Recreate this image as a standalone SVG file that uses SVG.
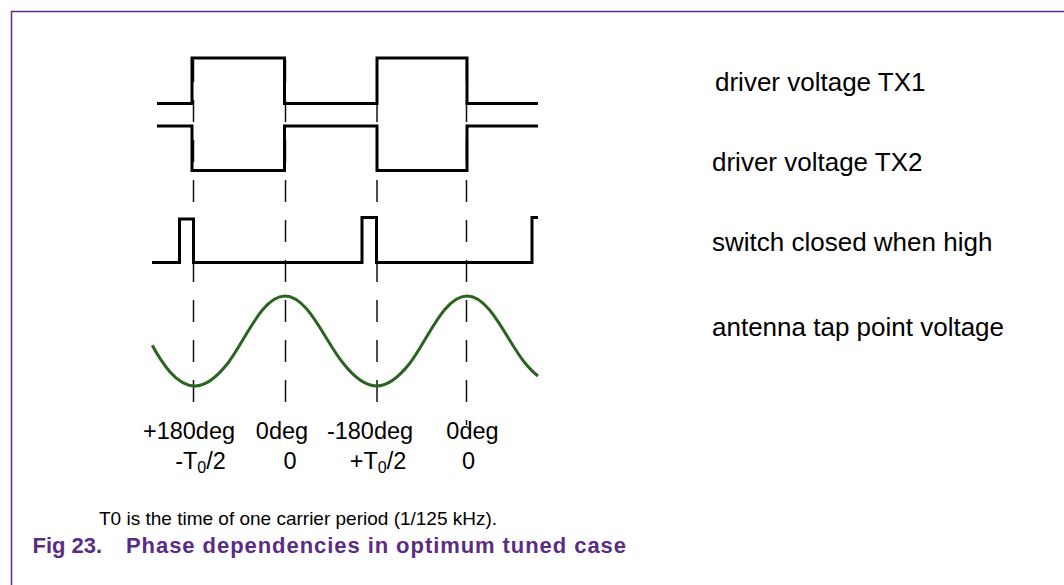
<svg xmlns="http://www.w3.org/2000/svg" width="1064" height="585" viewBox="0 0 1064 585">
<style>
.wave{fill:none;stroke:#000;stroke-width:3;stroke-linejoin:miter;stroke-linecap:butt}
.sine{fill:none;stroke:#2a6420;stroke-width:3}
.dash{stroke:#111;stroke-width:1.5;stroke-dasharray:22 18;fill:none}
.lbl{font-family:"Liberation Sans",Arial,sans-serif;font-size:26px;fill:#000}
.ax{font-family:"Liberation Sans",Arial,sans-serif;font-size:23.5px;fill:#000;text-anchor:middle}
.sub{font-size:16px}
.cap{font-family:"Liberation Sans",Arial,sans-serif;font-size:19px;fill:#000}
.title{font-family:"Liberation Sans",Arial,sans-serif;font-size:22px;font-weight:bold;fill:#5a2d82}
</style>
<rect width="1064" height="585" fill="#fff"/>
<g id="frame">
<path d="M11.5 585 V11.5 H1064" fill="none" stroke="#5a2d82" stroke-width="1.5"/>
</g>
<g id="connectors">
<line class="dash" x1="193.5" y1="60" x2="193.5" y2="418"/>
<line class="dash" x1="285.5" y1="60" x2="285.5" y2="420"/>
<line class="dash" x1="377" y1="60" x2="377" y2="420"/>
<line class="dash" x1="466.5" y1="60" x2="466.5" y2="425"/>
</g>
<g id="tx1">
<polyline class="wave" points="157,103.5 192,103.5 192,58 284.5,58 284.5,103.5 377,103.5 377,58 467,58 467,103.5 538,103.5"/>
<text class="lbl" x="715" y="91">driver voltage TX1</text>
</g>
<g id="tx2">
<polyline class="wave" points="157,126 192,126 192,170.5 284.5,170.5 284.5,126 377,126 377,170.5 467,170.5 467,126 538,126"/>
<text class="lbl" x="712" y="171">driver voltage TX2</text>
</g>
<g id="switch">
<polyline class="wave" points="152,262.5 179.5,262.5 179.5,219 193.5,219 193.5,262.5 362,262.5 362,217.5 376.5,217.5 376.5,262.5 532,262.5 532,217.5 538,217.5"/>
<text class="lbl" x="712" y="251">switch closed when high</text>
</g>
<g id="antenna">
<path class="sine" d="M152.3,345.2 C158,356 165,366 170,372 C178,381 186,386 195,386 C206,386 217,377 228,363 C245,341 262,296 285,296 C308,296 325,341 343,363 C354,377 365,386 376.7,386 C388,386 399,377 410,363 C427,341 444,296 467,296 C490,296 507,341 525,363 C530,369 534,373 538,376"/>
<text class="lbl" x="712" y="336">antenna tap point voltage</text>
</g>
<g id="axis-labels">
<text class="ax" x="189" y="439">+180deg</text>
<text class="ax" x="282" y="439">0deg</text>
<text class="ax" x="370" y="439">-180deg</text>
<text class="ax" x="472.5" y="439">0deg</text>
<text class="ax" x="200.5" y="469">-T<tspan class="sub" dy="4">0</tspan><tspan dy="-4">/2</tspan></text>
<text class="ax" x="290" y="469">0</text>
<text class="ax" x="378" y="469">+T<tspan class="sub" dy="4">0</tspan><tspan dy="-4">/2</tspan></text>
<text class="ax" x="468.5" y="469">0</text>
</g>
<g id="caption">
<text class="cap" x="99" y="525">T0 is the time of one carrier period (1/125 kHz).</text>
<text class="title" x="32.5" y="553">Fig 23.</text>
<text class="title" x="126" y="553" textLength="500">Phase dependencies in optimum tuned case</text>
</g>
</svg>
